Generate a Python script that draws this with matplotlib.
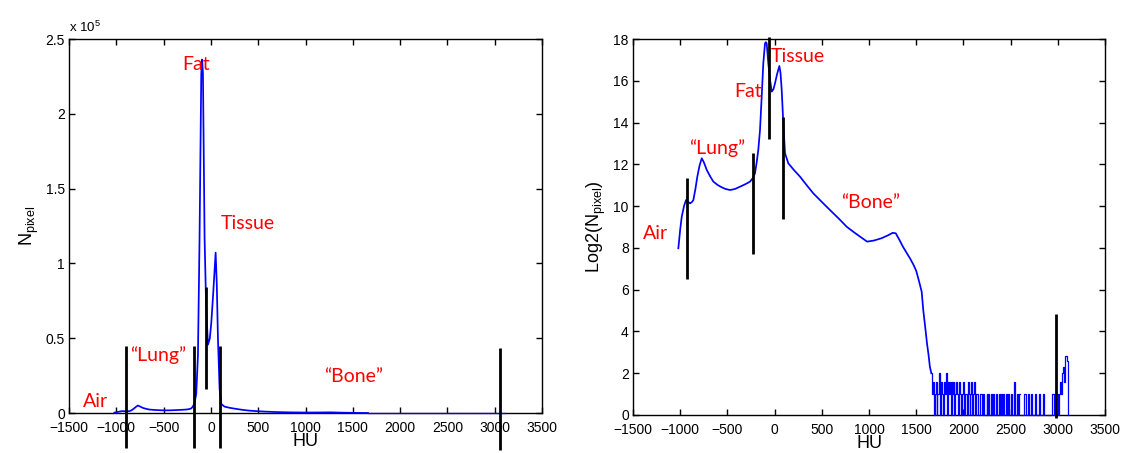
import matplotlib
matplotlib.use("Agg")
import matplotlib.pyplot as plt
import numpy as np
from matplotlib.ticker import FuncFormatter, MultipleLocator

# log2 of the pixel count per HU bin, main body of the histogram
hu_main = [-1020, -1000, -984, -960, -939, -915, -896, -875, -861, -840,
           -819, -795, -772, -750, -719, -680, -649, -600, -560, -520,
           -472, -420, -367, -310, -261, -230, -208, -190, -173, -155,
           -137, -120, -102, -93, -84, -67, -50, -31, -12, 4,
           25, 50, 62, 75, 92, 110, 145, 200, 269, 340,
           410, 500, 587, 680, 764, 840, 905, 980, 1050, 1131,
           1200, 1250, 1283, 1320, 1359, 1400, 1434, 1470, 1500, 1530,
           1558, 1575, 1593, 1615, 1630, 1645]
log2_main = [7.98, 8.9, 9.49, 10.0, 10.29, 10.2, 10.13, 10.2, 10.29, 10.8,
             11.41, 11.95, 12.29, 12.1, 11.73, 11.4, 11.17, 11.0, 10.9, 10.82,
             10.77, 10.82, 10.93, 11.05, 11.17, 11.35, 11.57, 12.1, 12.69, 13.64,
             15.24, 16.84, 17.79, 17.85, 17.79, 16.84, 16.1, 15.48, 15.6, 15.88,
             16.3, 16.71, 16.4, 15.56, 13.96, 12.53, 12.05, 11.75, 11.41, 11.0,
             10.61, 10.2, 9.81, 9.4, 9.01, 8.75, 8.54, 8.30, 8.35, 8.46,
             8.6, 8.72, 8.70, 8.4, 8.06, 7.75, 7.5, 7.2, 6.9, 6.4,
             5.9, 5.0, 4.3, 3.4, 2.9, 2.3]

# sparse bone tail, one value per 10 HU starting at 1660 (nan = empty bin)
nan = np.nan
tail_start = 1660
log2_tail = [
    2.0, 1.0, 1.58, 0, 1.0, 1.58, 0, 1.0, 1.0, 2.0,          # 1660-1750
    0, 1.58, 1.0, 0, 1.58, 1.0, 2.0, 0, 1.58, 1.0,           # 1760-1850
    1.58, 0, 1.58, 1.0, 1.58, 0, 1.0, 1.58, 1.0, 0,          # 1860-1950
    1.58, 1.0, 0, 1.0, 1.58, 0, 1.0, 1.0, 0, 1.58,           # 1960-2050
    1.0, 0, 1.0, 1.58, 0, 1.0, 1.58, 0, 1.0, 1.0,            # 2060-2150
    0, 0, 1, 1, 0, 1, 0, 0, 0, 1,                            # 2160-2250
    0, 1, 0, 0, 1, 0, 1, 0, 0, 1,                            # 2260-2350
    0, 0, 1, 0, 1, 0, 1, 0, 0, 0,                            # 2360-2450
    1, 0, 1, 0, 0, 1, 0, 0, 1.58, 0,                         # 2460-2550
    0, 1, 0, 1, nan, nan, 0, 0, 0, 1,                        # 2560-2650
    1, 0, 0, 1, 0, 0, 1, 0, nan, 0,                          # 2660-2750
    1, 0, 0, nan, 0, 1, 0, 0, 0, 1,                          # 2760-2850
    0, nan, nan, 0, 0, nan, 0, 0, 1, 1,                      # 2860-2950
    0, 0, 1.0, 1.0, 1.0, 0, 1.0, 1.58, 1.0, 2.0,             # 2960-3050
    2.32, 1.58, 2.81, 2.81, 2.58, 0,                         # 3060-3110
]

# range markers drawn on each panel: HU position, bottom, top
left_marks_hu = [-900, -178, -52, 100, 3060]
left_marks_lo = [-0.234e5, -0.234e5, 0.16e5, -0.234e5, -0.247e5]
left_marks_hi = [0.448e5, 0.448e5, 0.842e5, 0.448e5, 0.434e5]

right_marks_hu = [-930, -230, -60, 90, 2980]
right_marks_lo = [6.5, 7.7, 13.2, 9.4, -0.15]
right_marks_hi = [11.35, 12.55, 18.1, 14.27, 4.83]

# tissue class labels
class_names = ["Air", "\u201cLung\u201d", "Fat", "Tissue", "\u201cBone\u201d"]
left_label_hu = [-1225, -560, -157, 387, 1508]
left_label_y = [0.075e5, 0.39e5, 2.33e5, 1.27e5, 0.243e5]
right_label_hu = [-1260, -609, -283, 247, 1018]
right_label_y = [8.70, 12.77, 15.48, 17.17, 10.18]

x_ticks = list(range(-1500, 3501, 500))

TICK_FONT = "Liberation Sans"
LABEL_FONT = "Lato"
CURVE_COLOR = "#0000ff"


def style_axes(ax):
    ax.set_xlim(-1500, 3500)
    ax.set_xticks(x_ticks)
    ax.tick_params(direction="in", top=True, right=True, length=4, width=1,
                   labelsize=10, pad=3)
    ax.tick_params(axis="x", pad=5.5)
    for lbl in ax.get_xticklabels() + ax.get_yticklabels():
        lbl.set_fontfamily(TICK_FONT)
    for sp in ax.spines.values():
        sp.set_linewidth(1.0)
        sp.set_color("black")
    ax.set_xlabel("HU", fontsize=13, family=TICK_FONT, labelpad=-1)


def add_labels(ax, xs, ys):
    for name, x, y in zip(class_names, xs, ys):
        ax.text(x, y, name, color="red", fontsize=14, family=LABEL_FONT,
                ha="center", va="center")


def draw_curve(ax, hu_body, body, hu_tail, tail):
    # smooth body up to the first tail bin, then the binned tail as steps
    ax.plot(list(hu_body) + [hu_tail[0]], list(body) + [tail[0]],
            color=CURVE_COLOR, lw=1.25, clip_on=False, zorder=3)
    ax.plot(hu_tail, tail, color=CURVE_COLOR, lw=0.9, drawstyle="steps-mid",
            clip_on=False, zorder=3)


def main():
    plt.rcParams["mathtext.fontset"] = "custom"
    plt.rcParams["mathtext.rm"] = TICK_FONT
    plt.rcParams["mathtext.it"] = TICK_FONT

    hu_tail = np.arange(len(log2_tail)) * 10 + tail_start
    tail = np.array(log2_tail, dtype=float)
    body = np.array(log2_main, dtype=float)

    fig = plt.figure(figsize=(11.24, 4.53), dpi=100)
    ax1 = fig.add_axes([0.0614, 0.0883, 0.4208, 0.8256])
    ax2 = fig.add_axes([0.5632, 0.0839, 0.4199, 0.8300])

    # linear counts
    draw_curve(ax1, hu_main, 2.0 ** body, hu_tail, 2.0 ** tail)
    ax1.vlines(left_marks_hu, left_marks_lo, left_marks_hi, colors="black",
               lw=2, clip_on=False, zorder=4)
    ax1.set_ylim(0, 2.5e5)
    ax1.yaxis.set_major_locator(MultipleLocator(0.5e5))
    ax1.yaxis.set_major_formatter(FuncFormatter(lambda v, p: f"{v / 1e5:g}"))
    style_axes(ax1)
    ax1.set_ylabel(r"N$_{\rm pixel}$", fontsize=13, family=TICK_FONT, labelpad=3)
    ax1.text(0.0, 1.01, r"x 10$^5$", transform=ax1.transAxes, fontsize=9.5,
             family=TICK_FONT, ha="left", va="bottom")
    add_labels(ax1, left_label_hu, left_label_y)

    # log2 counts
    draw_curve(ax2, hu_main, body, hu_tail, tail)
    ax2.vlines(right_marks_hu, right_marks_lo, right_marks_hi, colors="black",
               lw=2, clip_on=False, zorder=4)
    ax2.set_ylim(0, 18)
    ax2.yaxis.set_major_locator(MultipleLocator(2))
    style_axes(ax2)
    ax2.set_ylabel(r"Log2(N$_{\rm pixel}$)", fontsize=13, family=TICK_FONT,
                   labelpad=4)
    add_labels(ax2, right_label_hu, right_label_y)

    fig.savefig("out.png", dpi=100)
    plt.close(fig)


if __name__ == "__main__":
    main()
